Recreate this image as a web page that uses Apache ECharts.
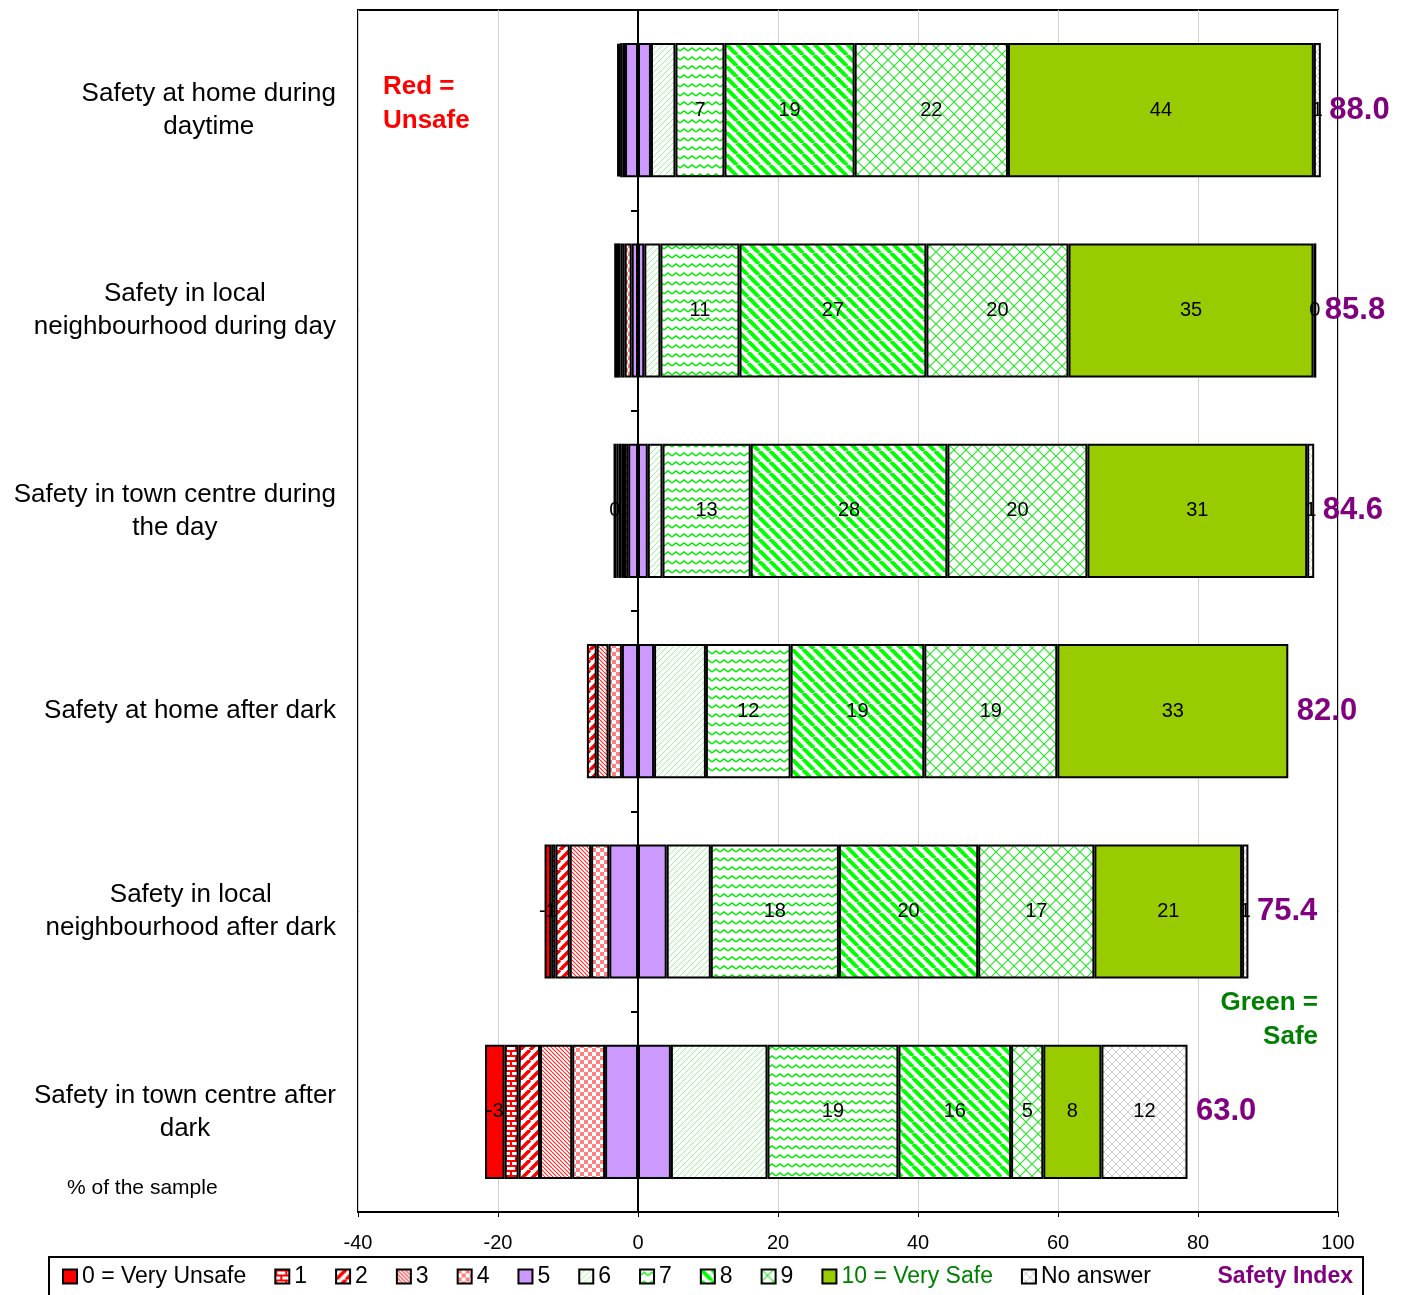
<!DOCTYPE html>
<html>
<head>
<meta charset="utf-8">
<script src="https://cdn.jsdelivr.net/npm/echarts@6/dist/echarts.min.js"></script>
<style>html,body{margin:0;padding:0;background:#fff;}#chart{width:1404px;height:1295px;}</style>
</head>
<body>
<div id="chart"></div>
<script>
// ---- data ----
const categories = [
  'Safety at home during\ndaytime',
  'Safety in local\nneighbourhood during day',
  'Safety in town centre during\nthe day',
  'Safety at home after dark',
  'Safety in local\nneighbourhood after dark',
  'Safety in town centre after\ndark'
];
const s0  = [0,    0,    0.4,  0,    0.95, 2.8];
const s1  = [0.2,  0.4,  0.3,  0,    0.6,  2.0];
const s2  = [0.2,  0.5,  0.4,  1.4,  2.05, 3.05];
const s3  = [0.3,  0.6,  0.4,  1.7,  3.05, 4.6];
const s4  = [0.4,  1.0,  0.6,  1.9,  2.6,  4.7];
const s5  = [3.7,  1.8,  2.8,  4.6,  8.2,  9.4];
const s6  = [3.5,  2.3,  2.1,  7.4,  6.3,  13.8];
const s7  = [7.0,  11.3, 12.6, 12.1, 18.3, 18.7];
const s8  = [18.6, 26.7, 28.1, 19.1, 19.9, 16.1];
const s9  = [21.9, 20.3, 20.0, 19.0, 16.6, 4.6];
const s10 = [43.7, 35.0, 31.4, 33.0, 21.1, 8.3];
const sNA = [1.0,  0.4,  1.0,  0,    0.9,  12.3];
const safetyIndex = [88.0, 85.8, 84.6, 82.0, 75.4, 63.0];
const xTicks = {min: -40, max: 100, interval: 20};

const FONT = '"Liberation Sans", Arial, sans-serif';

// ---- patterns ----
function pat(w, h, draw) {
  const c = document.createElement('canvas');
  c.width = w; c.height = h;
  const ctx = c.getContext('2d');
  ctx.fillStyle = '#fff'; ctx.fillRect(0, 0, w, h);
  draw(ctx);
  return {image: c, repeat: 'repeat'};
}
function diag(size, color, lw, dir) {
  return pat(size, size, ctx => {
    ctx.strokeStyle = color; ctx.lineWidth = lw;
    for (let k = -1; k <= 1; k++) {
      ctx.beginPath();
      if (dir > 0) { ctx.moveTo(k * size, size); ctx.lineTo(k * size + size, 0); }
      else { ctx.moveTo(k * size, 0); ctx.lineTo(k * size + size, size); }
      ctx.stroke();
    }
  });
}
const P = {};
P.c0 = '#FF0000';
P.c1 = pat(10, 10, ctx => {
  ctx.fillStyle = '#FF0000';
  ctx.fillRect(0, 0, 10, 2); ctx.fillRect(0, 5, 10, 2);
  ctx.fillRect(0, 2, 2, 3); ctx.fillRect(5, 7, 2, 3);
});
P.c2 = diag(10, '#FF0000', 3.6, 1);
P.c3 = diag(4, '#FF3030', 1.2, -1);
P.c4 = pat(8, 8, ctx => {
  ctx.fillStyle = '#FF8080';
  ctx.fillRect(0, 0, 4, 4); ctx.fillRect(4, 4, 4, 4);
});
P.c5 = '#CC99FF';
P.c6 = diag(6, '#9CF59C', 1, 1);
P.c7 = pat(8, 9, ctx => {
  ctx.strokeStyle = '#00EE00'; ctx.lineWidth = 1.5;
  ctx.beginPath(); ctx.moveTo(0, 6); ctx.lineTo(4, 3); ctx.lineTo(8, 6); ctx.stroke();
});
P.c8 = diag(11, '#00FF00', 4, -1);
P.c9 = pat(12, 12, ctx => {
  ctx.strokeStyle = '#30E030'; ctx.lineWidth = 1.2;
  for (let k = -1; k <= 1; k++) {
    ctx.beginPath(); ctx.moveTo(k * 12, 12); ctx.lineTo(k * 12 + 12, 0); ctx.stroke();
    ctx.beginPath(); ctx.moveTo(k * 12, 0); ctx.lineTo(k * 12 + 12, 12); ctx.stroke();
  }
});
P.c10 = '#99CC00';
P.cNA = pat(8, 8, ctx => {
  ctx.strokeStyle = '#CCCCCC'; ctx.lineWidth = 1;
  for (let k = -1; k <= 1; k++) {
    ctx.beginPath(); ctx.moveTo(k * 8, 8); ctx.lineTo(k * 8 + 8, 0); ctx.stroke();
    ctx.beginPath(); ctx.moveTo(k * 8, 0); ctx.lineTo(k * 8 + 8, 8); ctx.stroke();
  }
});

// ---- category label widths (lines centered, block right aligned) ----
const mctx = document.createElement('canvas').getContext('2d');
mctx.font = '26px ' + FONT;
const rich = {};
categories.forEach((c, i) => {
  const w = Math.max(...c.split('\n').map(l => mctx.measureText(l).width)) + 2;
  rich['c' + i] = {width: w, align: 'center', fontSize: 26, lineHeight: 33, fontFamily: FONT, color: '#000'};
});

const nz = v => (v === 0 ? '-' : v);
const neg = v => (v === 0 ? '-' : -v);

const border = {borderColor: '#000', borderWidth: 2};
const lbl = {
  show: true, position: 'inside', color: '#000', fontSize: 20, fontFamily: FONT,
  textBorderWidth: 0,
  formatter: p => { const r = Math.round(p.value); return (r === 0 ? 0 : r) + ''; }
};
function bar(name, data, color, showLabel) {
  return {
    name, type: 'bar', stack: 'total', barWidth: '67%', data,
    itemStyle: Object.assign({color}, border),
    label: showLabel ? lbl : {show: false},
    emphasis: {disabled: true}
  };
}

const series = [
  bar('5', s5.map(v => neg(v / 2)), P.c5, false),
  bar('5', s5.map(v => nz(v / 2)), P.c5, false),
  bar('4', s4.map(neg), P.c4, false),
  bar('3', s3.map(neg), P.c3, false),
  bar('2', s2.map(neg), P.c2, false),
  bar('1', s1.map(neg), P.c1, false),
  bar('0 = Very Unsafe', s0.map(neg), P.c0, true),
  bar('6', s6.map(nz), P.c6, false),
  bar('7', s7.map(nz), P.c7, true),
  bar('8', s8.map(nz), P.c8, true),
  bar('9', s9.map(nz), P.c9, true),
  bar('10 = Very Safe', s10.map(nz), P.c10, true),
  bar('No answer', sNA.map(nz), P.cNA, true)
];
const posEnd = categories.map((c, i) => s5[i] / 2 + s6[i] + s7[i] + s8[i] + s9[i] + s10[i] + sNA[i]);
series.push({
  name: 'Safety Index', type: 'scatter', symbolSize: 1, z: 5,
  itemStyle: {color: 'rgba(0,0,0,0)', opacity: 1},
  data: categories.map((c, i) => [posEnd[i], i]),
  label: {
    show: true, position: 'right', distance: 8, color: '#800080', fontWeight: 'bold',
    fontSize: 31, fontFamily: FONT, opacity: 1,
    formatter: p => safetyIndex[p.dataIndex].toFixed(1)
  },
  emphasis: {disabled: true}
});

const legendNames = ['0 = Very Unsafe', '1', '2', '3', '4', '5', '6', '7', '8', '9', '10 = Very Safe', 'No answer'];

const chart = echarts.init(document.getElementById('chart'), null, {renderer: 'canvas'});
chart.setOption({
  animation: false,
  textStyle: {fontFamily: FONT},
  grid: {left: 358, right: 66, top: 10, bottom: 83, show: true, borderColor: '#000', borderWidth: 2, backgroundColor: '#fff'},
  xAxis: {
    type: 'value', min: xTicks.min, max: xTicks.max, interval: xTicks.interval,
    axisLine: {show: true, lineStyle: {color: '#000', width: 2}},
    axisTick: {show: true, length: 5, lineStyle: {color: '#000'}},
    axisLabel: {color: '#000', fontSize: 20, margin: 21, fontFamily: FONT},
    splitLine: {show: true, lineStyle: {color: '#D0D0D0', width: 1}}
  },
  yAxis: [
    {
      type: 'category', data: categories, inverse: true, position: 'left',
      axisLine: {show: false, onZero: false},
      axisTick: {show: false},
      axisLabel: {
        margin: 21, color: '#000', fontSize: 26, fontFamily: FONT, rich,
        formatter: (v, idx) => v.split('\n').map(l => '{c' + idx + '|' + l + '}').join('\n')
      },
      splitLine: {show: false}
    },
    {
      type: 'category', data: categories, inverse: true, position: 'left', z: 10,
      axisLine: {show: true, onZero: true, lineStyle: {color: '#000', width: 2}},
      axisTick: {show: true, length: 7, lineStyle: {color: '#000', width: 2}},
      axisLabel: {show: false},
      splitLine: {show: false}
    }
  ],
  legend: [
    {
      data: legendNames.map(n => n === '10 = Very Safe' ? {name: n, textStyle: {color: '#008000'}} : {name: n}),
      left: 48, top: 1256, padding: [9, 0, 0, 14], orient: 'horizontal',
      itemGap: 28, itemWidth: 14, itemHeight: 14, icon: 'rect', selectedMode: false,
      itemStyle: {borderColor: '#000', borderWidth: 2},
      textStyle: {fontSize: 23, color: '#000', fontFamily: FONT}
    },
    {
      data: [{name: 'Safety Index', icon: 'none', itemStyle: {opacity: 0}}],
      right: 51, top: 1256, padding: [9, 0, 0, 0], selectedMode: false,
      itemWidth: 14, itemHeight: 14, itemStyle: {borderWidth: 0},
      textStyle: {fontSize: 23, color: '#800080', fontWeight: 'bold', fontFamily: FONT}
    }
  ],
  graphic: [
    {type: 'rect', left: 48, top: 1256, z: -1, shape: {width: 1314, height: 60},
     style: {fill: '#fff', stroke: '#000', lineWidth: 2}, silent: true},
    {type: 'text', x: 383, y: 70, z: 20, style: {text: 'Red =\nUnsafe', font: 'bold 26px ' + FONT, fill: '#FF0000', lineHeight: 34, align: 'left', verticalAlign: 'top'}},
    {type: 'text', x: 1318, y: 986, z: 20, style: {text: 'Green =\nSafe', font: 'bold 26px ' + FONT, fill: '#008000', lineHeight: 34, align: 'right', verticalAlign: 'top'}},
    {type: 'text', x: 67, y: 1188, z: 20, style: {text: '% of the sample', font: '21px ' + FONT, fill: '#000', align: 'left', verticalAlign: 'middle'}}
  ],
  series
});
</script>
</body>
</html>
